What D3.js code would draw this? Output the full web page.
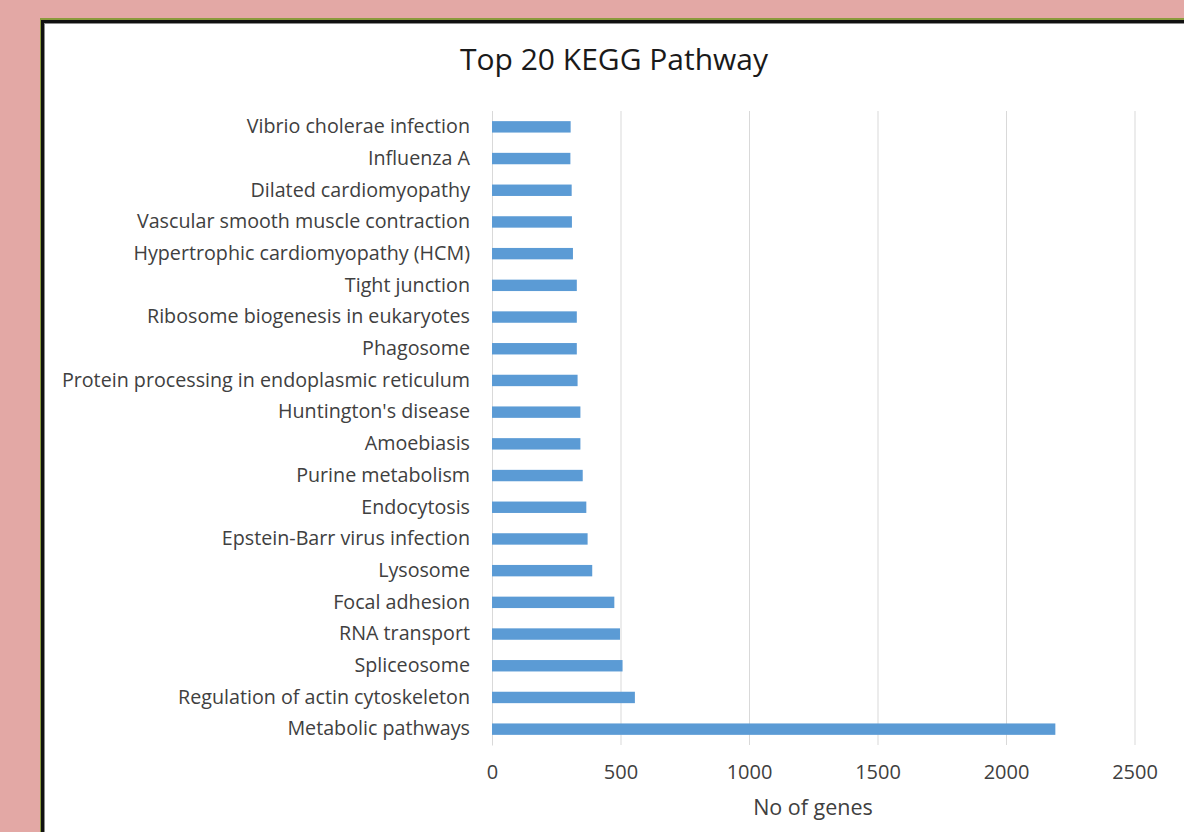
<!DOCTYPE html>
<html>
<head>
<meta charset="utf-8">
<script src="https://cdn.jsdelivr.net/npm/d3@7"></script>
<style>
  body { margin: 0; background: #e3a8a5; }
  svg { display: block; }
</style>
</head>
<body>
<div id="chart"></div>
<script>
var W = 1184, H = 832;

// pathways, top of chart first
var pathways = ["Vibrio cholerae infection", "Influenza A", "Dilated cardiomyopathy",
    "Vascular smooth muscle contraction", "Hypertrophic cardiomyopathy (HCM)", "Tight junction",
    "Ribosome biogenesis in eukaryotes", "Phagosome", "Protein processing in endoplasmic reticulum",
    "Huntington's disease", "Amoebiasis", "Purine metabolism", "Endocytosis",
    "Epstein-Barr virus infection", "Lysosome", "Focal adhesion", "RNA transport",
    "Spliceosome", "Regulation of actin cytoskeleton", "Metabolic pathways"];

var geneCounts = [306, 305, 310, 311, 315, 330, 330, 330, 333, 344, 344, 353, 367,
    372, 390, 476, 498, 508, 556, 2192];

var xTicks = [0, 500, 1000, 1500, 2000, 2500];

var font = "'Open Sans', sans-serif";

var svg = d3.select("#chart").append("svg")
    .attr("width", W)
    .attr("height", H);

svg.append("rect").attr("width", W).attr("height", H).attr("fill", "#e3a8a5");

// panel frame: olive edge, black border, white inside
svg.append("rect").attr("x", 40).attr("y", 18).attr("width", W).attr("height", H).attr("fill", "#8a9a3c");
svg.append("rect").attr("x", 41).attr("y", 20).attr("width", W).attr("height", H).attr("fill", "#111");
svg.append("rect").attr("x", 44).attr("y", 23).attr("width", W).attr("height", H).attr("fill", "#8c8c8c");
svg.append("rect").attr("x", 45).attr("y", 24).attr("width", W).attr("height", H).attr("fill", "#ffffff");

var x = d3.scaleLinear().domain([0, 2500]).range([492, 1134.5]);
var y = d3.scaleBand().domain(pathways).range([111, 745])
    .paddingInner(0.64).paddingOuter(0.32);

// gridlines + tick labels
var xAxis = svg.append("g")
    .attr("transform", "translate(0,745)")
    .call(d3.axisBottom(x).tickValues(xTicks).tickFormat(d3.format("d"))
        .tickSize(-(745 - 111)).tickPadding(20));
xAxis.select(".domain").remove();
xAxis.selectAll(".tick line").attr("stroke", "#d9d9d9");
xAxis.selectAll(".tick text")
    .style("font-family", font).style("font-size", "20px").attr("fill", "#404040");

// category axis
var yAxis = svg.append("g")
    .attr("transform", "translate(492,0)")
    .call(d3.axisLeft(y).tickSize(0).tickPadding(22));
yAxis.select(".domain").attr("stroke", "#d9d9d9");
yAxis.selectAll(".tick text")
    .style("font-family", font).style("font-size", "19.7px").attr("fill", "#404040");

// bars
svg.selectAll(".bar")
    .data(pathways)
    .enter().append("rect")
    .attr("class", "bar")
    .attr("x", x(0))
    .attr("y", function(d) { return y(d); })
    .attr("width", function(d, i) { return x(geneCounts[i]) - x(0); })
    .attr("height", y.bandwidth())
    .attr("fill", "#5b9bd5");

// title
svg.append("text")
    .attr("x", 614)
    .attr("y", 70)
    .attr("text-anchor", "middle")
    .style("font-family", font)
    .style("font-size", "30px")
    .attr("fill", "#1a1a1a")
    .text("Top 20 KEGG Pathway");

// x axis title
svg.append("text")
    .attr("x", 813)
    .attr("y", 815)
    .attr("text-anchor", "middle")
    .style("font-family", font)
    .style("font-size", "21.5px")
    .attr("fill", "#404040")
    .text("No of genes");
</script>
</body>
</html>
